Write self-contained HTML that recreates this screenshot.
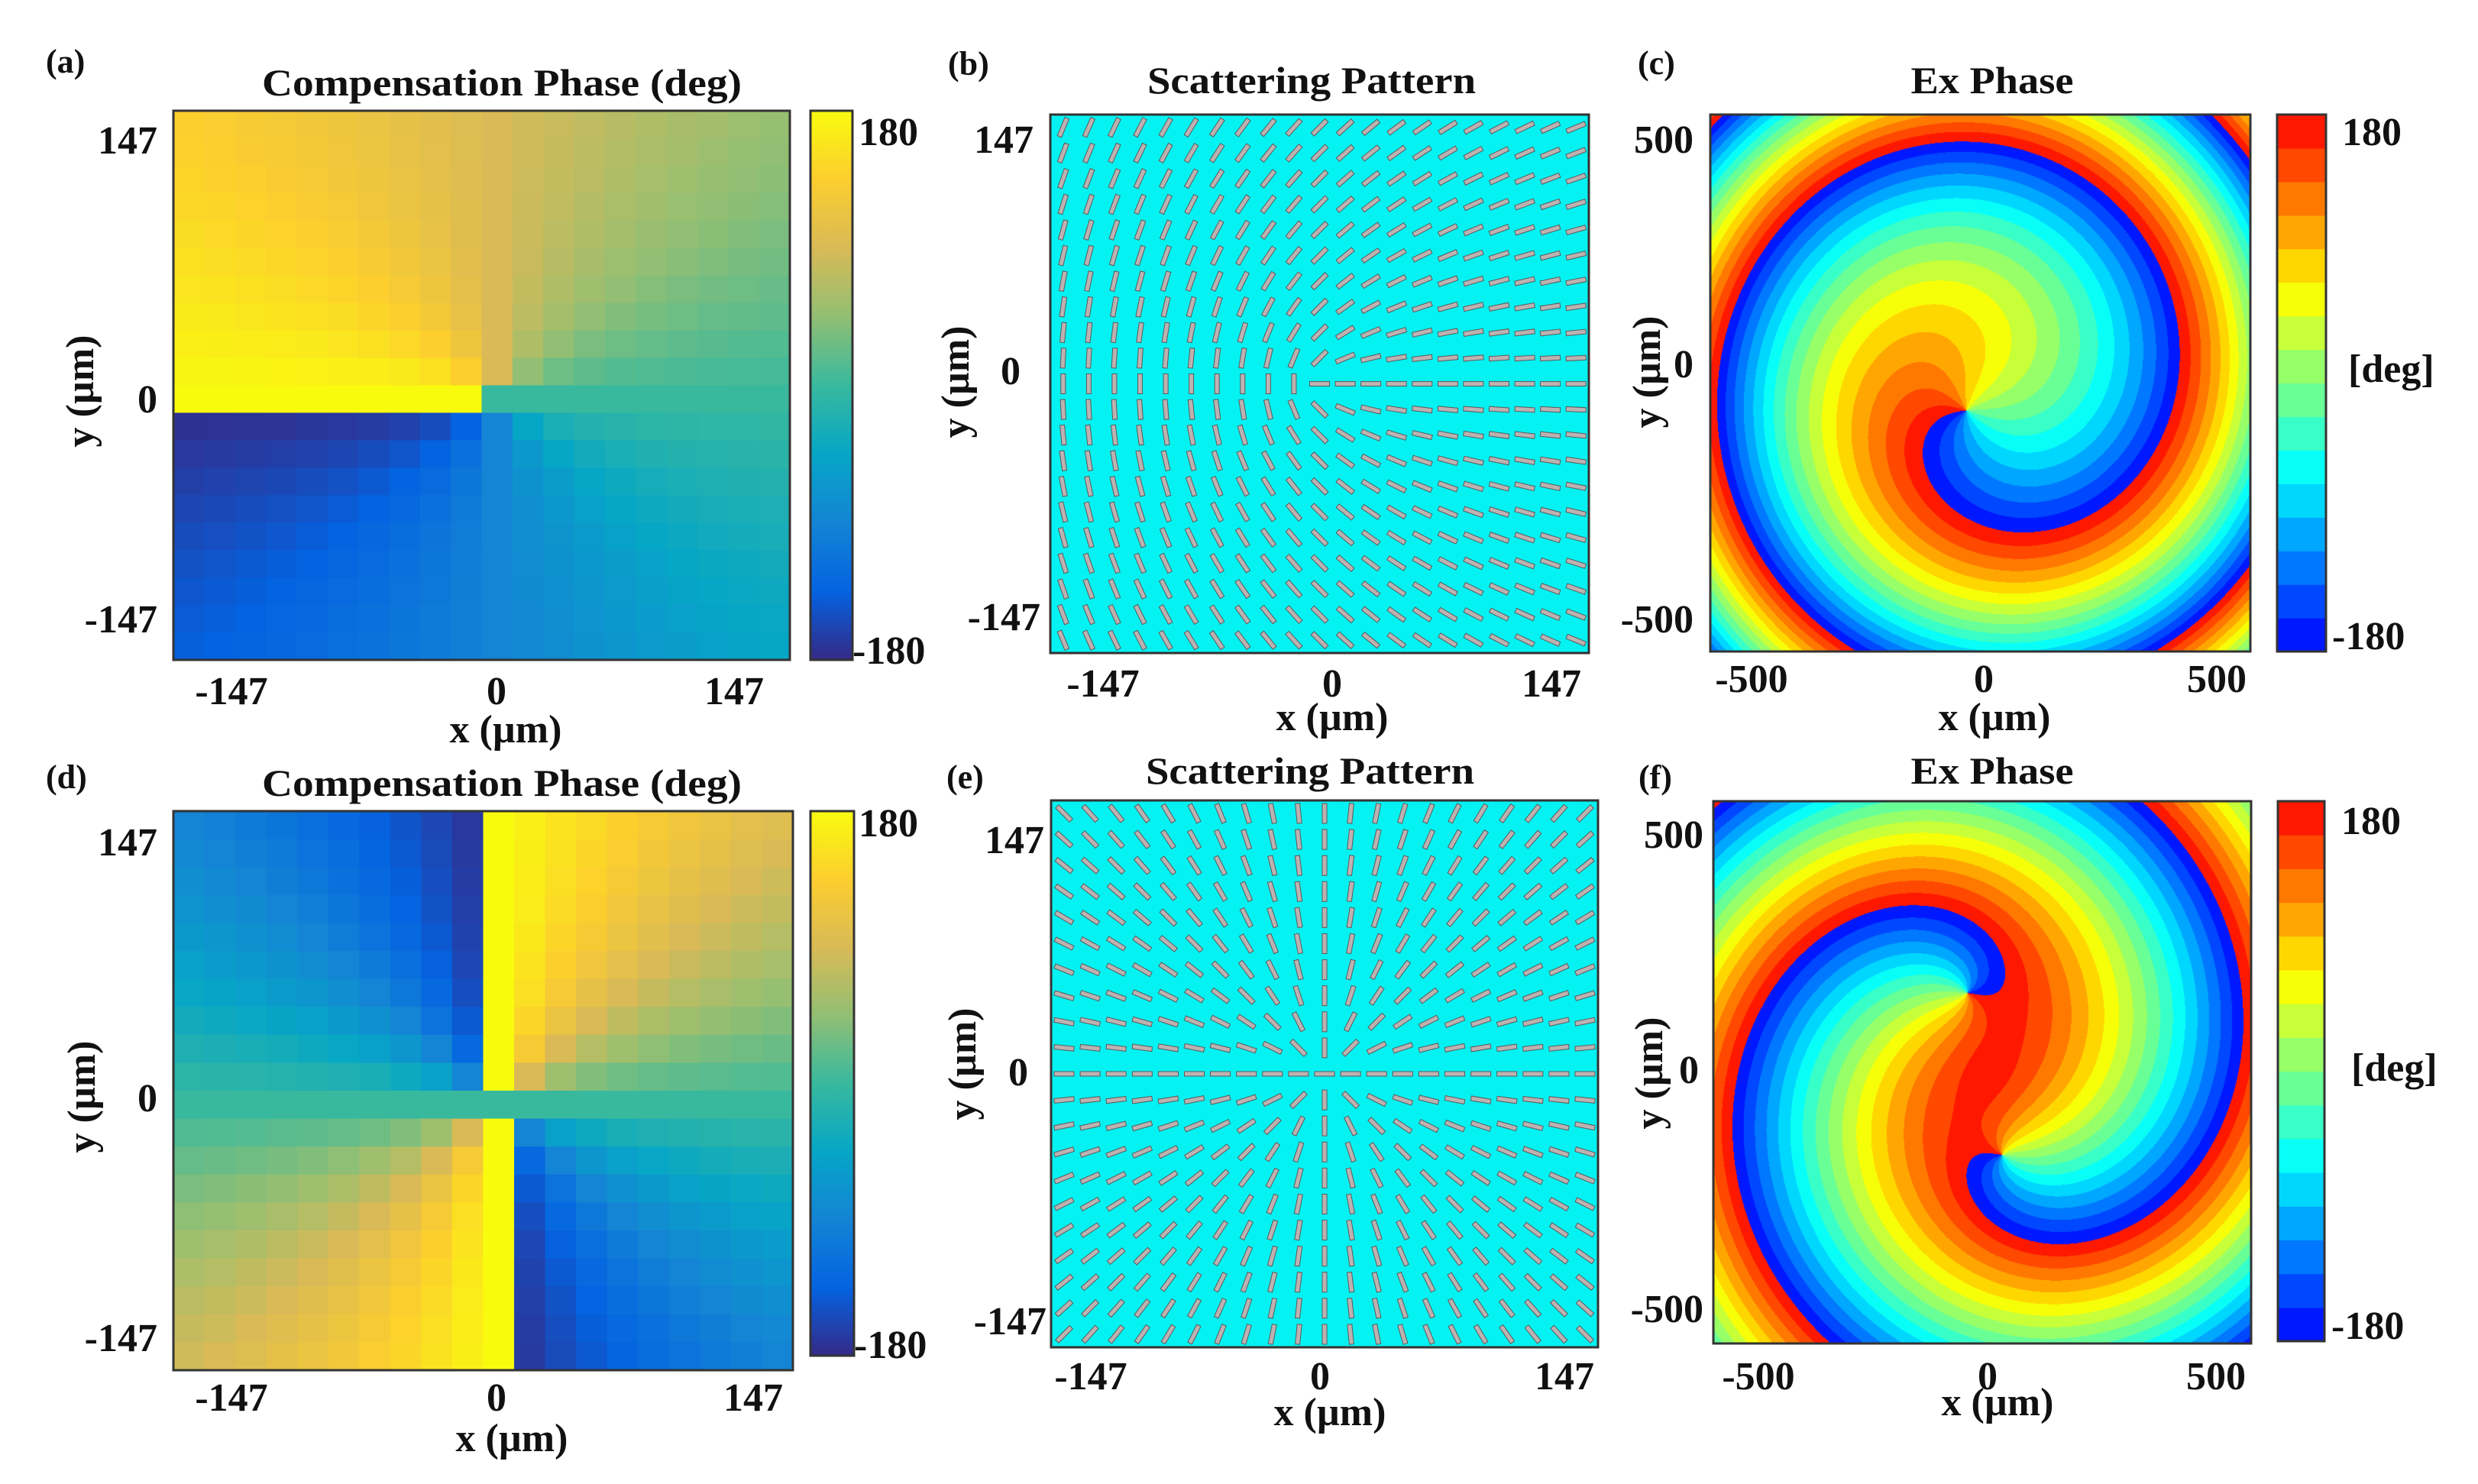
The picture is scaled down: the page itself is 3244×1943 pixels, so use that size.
<!DOCTYPE html>
<html><head><meta charset="utf-8"><style>
body{margin:0;width:3244px;height:1943px;background:#fff;position:relative;overflow:hidden}
canvas{position:absolute}
svg{position:absolute;left:0;top:0}
text{font-family:"Liberation Serif",serif;font-weight:bold;fill:#111}
</style></head><body>
<canvas id="cvC" width="707" height="703" style="left:2239px;top:150px"></canvas>
<canvas id="cvF" width="704" height="710" style="left:2243px;top:1049px"></canvas>
<svg id="sv" width="3244" height="1943">
<defs>
<linearGradient id="parula" x1="0" y1="1" x2="0" y2="0">
<stop offset="0" stop-color="rgb(53,42,135)"/><stop offset="0.125" stop-color="rgb(3,99,225)"/><stop offset="0.25" stop-color="rgb(20,132,212)"/><stop offset="0.375" stop-color="rgb(6,166,198)"/><stop offset="0.5" stop-color="rgb(56,185,158)"/><stop offset="0.625" stop-color="rgb(146,191,115)"/><stop offset="0.75" stop-color="rgb(217,186,86)"/><stop offset="0.875" stop-color="rgb(252,206,46)"/><stop offset="1" stop-color="rgb(249,251,14)"/>
</linearGradient>
</defs>
<g id="gA"></g>
<g id="gB"><rect x="1375" y="150" width="705" height="705" fill="#05f2f2"/></g>
<g id="gD"></g>
<g id="gE"><rect x="1376" y="1048" width="716" height="716" fill="#05f2f2"/></g>
<g id="cbC"></g>
<g id="cbF"></g>
<g fill="none" stroke="#333" stroke-width="3">
<rect x="227" y="145" width="807" height="719"/><rect x="1061" y="145" width="55" height="719" fill="url(#parula)"/>
<rect x="1375" y="150" width="705" height="705"/><rect x="2239" y="150" width="707" height="703"/><rect x="2981" y="150" width="64" height="703"/>
<rect x="227" y="1062" width="811" height="732"/><rect x="1061" y="1062" width="57" height="713" fill="url(#parula)"/>
<rect x="1376" y="1048" width="716" height="716"/><rect x="2243" y="1049" width="704" height="710"/><rect x="2982" y="1049" width="61" height="707"/>
</g>
<g font-size="44">
<text x="60" y="95">(a)</text>
<text x="1241" y="98">(b)</text>
<text x="2144" y="97">(c)</text>
<text x="60" y="1032">(d)</text>
<text x="1239" y="1032">(e)</text>
<text x="2145" y="1032">(f)</text>
</g>
<g font-size="50" text-anchor="middle">
<text x="657" y="125" textLength="628" lengthAdjust="spacingAndGlyphs">Compensation Phase (deg)</text>
<text x="1717" y="122" textLength="430" lengthAdjust="spacingAndGlyphs">Scattering Pattern</text>
<text x="2608" y="122" textLength="213" lengthAdjust="spacingAndGlyphs">Ex Phase</text>
<text x="657" y="1042" textLength="628" lengthAdjust="spacingAndGlyphs">Compensation Phase (deg)</text>
<text x="1715" y="1026" textLength="430" lengthAdjust="spacingAndGlyphs">Scattering Pattern</text>
<text x="2608" y="1026" textLength="213" lengthAdjust="spacingAndGlyphs">Ex Phase</text>
</g>
<g font-size="52">
<g text-anchor="end">
<text x="206" y="201">147</text><text x="206" y="540">0</text><text x="206" y="828">-147</text>
<text x="1353" y="200">147</text><text x="1336" y="503">0</text><text x="1362" y="825">-147</text>
<text x="2217" y="200">500</text><text x="2217" y="494">0</text><text x="2217" y="828">-500</text>
<text x="206" y="1120">147</text><text x="206" y="1455">0</text><text x="206" y="1769">-147</text>
<text x="1367" y="1117">147</text><text x="1346" y="1421">0</text><text x="1370" y="1747">-147</text>
<text x="2230" y="1110">500</text><text x="2224" y="1418">0</text><text x="2230" y="1731">-500</text>
</g>
<g text-anchor="middle">
<text x="303" y="922">-147</text><text x="650" y="922">0</text><text x="961" y="922">147</text>
<text x="1444" y="912">-147</text><text x="1744" y="912">0</text><text x="2031" y="912">147</text>
<text x="2293" y="906">-500</text><text x="2597" y="906">0</text><text x="2902" y="906">500</text>
<text x="303" y="1847">-147</text><text x="650" y="1847">0</text><text x="986" y="1847">147</text>
<text x="1428" y="1819">-147</text><text x="1728" y="1819">0</text><text x="2048" y="1819">147</text>
<text x="2302" y="1819">-500</text><text x="2602" y="1819">0</text><text x="2901" y="1819">500</text>
</g>
<g>
<text x="1124" y="190">180</text><text x="1116" y="869">-180</text>
<text x="3066" y="190">180</text><text x="3053" y="850">-180</text><text x="3074" y="500">[deg]</text>
<text x="1124" y="1095">180</text><text x="1118" y="1778">-180</text>
<text x="3065" y="1092">180</text><text x="3052" y="1753">-180</text><text x="3078" y="1415">[deg]</text>
</g>
</g>
<g font-size="52" text-anchor="middle">
<text x="662" y="972">x (µm)</text><text x="1744" y="956">x (µm)</text><text x="2611" y="956">x (µm)</text>
<text x="670" y="1900">x (µm)</text><text x="1741" y="1866">x (µm)</text><text x="2615" y="1853">x (µm)</text>
<text transform="translate(122,512) rotate(-90)">y (µm)</text>
<text transform="translate(1268,500) rotate(-90)">y (µm)</text>
<text transform="translate(2173,487) rotate(-90)">y (µm)</text>
<text transform="translate(124,1436) rotate(-90)">y (µm)</text>
<text transform="translate(1277,1393) rotate(-90)">y (µm)</text>
<text transform="translate(2176,1405) rotate(-90)">y (µm)</text>
</g>
</svg>
<script>
// ---- data ----
const gridX = [-10,-9,-8,-7,-6,-5,-4,-3,-2,-1,0,1,2,3,4,5,6,7,8,9];
const gridY = [10,9,8,7,6,5,4,3,2,1,0,-1,-2,-3,-4,-5,-6,-7,-8,-9];
const chargeA = [1];
const chargeD = [2];
const barIdx = [-10,-9,-8,-7,-6,-5,-4,-3,-2,-1,0,1,2,3,4,5,6,7,8,9,10];
const barOrderB = [0.5];
const barOrderE = [1];
const cVortexX = [-38], cVortexY = [-62], cCharge = [1], cOffset = [0], cFocus = [0.00108], cPower = [2];
const fVortexX = [-45, 31], fVortexY = [170, -172], fCharge = [1, 1], fOffset = [145], fFocus = [0.0256], fPower = [1.5];
const levels = [16];

const NS='http://www.w3.org/2000/svg';
function parula(t){
  const st=[[53,42,135],[3,99,225],[20,132,212],[6,166,198],[56,185,158],[146,191,115],[217,186,86],[252,206,46],[249,251,14]];
  t=Math.max(0,Math.min(1,t))*8;const i=Math.min(7,Math.floor(t)),f=t-i;
  return st[i].map((v,k)=>Math.round(v+(st[i+1][k]-v)*f));
}
function jet(t){t=0.125+0.75*t;const c=x=>Math.max(0,Math.min(1,x));return [c(1.5-Math.abs(4*t-3)),c(1.5-Math.abs(4*t-2)),c(1.5-Math.abs(4*t-1))].map(v=>Math.round(v*255));}
function wrap(p){while(p>180)p-=360;while(p<=-180)p+=360;return p;}
function ang(y,x){if(y===0&&x<0)return 180;return Math.atan2(y,x)*180/Math.PI;}

function heat(gid,x0,y0,w,h,charge,name){
  const g=document.getElementById(gid);const cw=w/gridX.length,ch=h/gridY.length;
  gridY.forEach((yv,j)=>gridX.forEach((xv,i)=>{
    let p=wrap(charge*ang(yv,xv));if(p===-180)p=180;
    const r=document.createElementNS(NS,'rect');
    r.setAttribute('x',(x0+i*cw).toFixed(2));r.setAttribute('y',(y0+j*ch).toFixed(2));
    r.setAttribute('width',(cw+0.8).toFixed(2));r.setAttribute('height',(ch+0.8).toFixed(2));
    r.setAttribute('fill','rgb('+parula((p+180)/360).join(',')+')');
    
    
    g.appendChild(r);
  }));
}
heat('gA',227,145,807,719,chargeA[0],'phase-cell-a');
heat('gD',227,1062,811,732,chargeD[0],'phase-cell-d');

function bars(gid,x0,y0,w,h,order,name){
  const g=document.getElementById(gid);const s=w/barIdx.length,sy=h/barIdx.length;
  barIdx.forEach((yv,j)=>barIdx.forEach((xv,i)=>{
    const th=ang(-yv,xv)*order;
    const cx=x0+(i+0.5)*s,cy=y0+(j+0.5)*sy;
    const r=document.createElementNS(NS,'rect');
    r.setAttribute('x',-13);r.setAttribute('y',-3);r.setAttribute('width',26);r.setAttribute('height',6);
    r.setAttribute('fill','#bdb2b2');r.setAttribute('stroke','#5a5a5a');r.setAttribute('stroke-width','1');
    r.setAttribute('transform','translate('+cx.toFixed(1)+','+cy.toFixed(1)+') rotate('+(-th).toFixed(2)+')');
    
    
    g.appendChild(r);
  }));
}
bars('gB',1375,150,705,705,barOrderB[0],'scatterer-b');
bars('gE',1376,1048,716,716,barOrderE[0],'scatterer-e');

function ex(id,x0um,y0um,sx,sy,vx,vy,q,off,a,p){
  const cv=document.getElementById(id),ctx=cv.getContext('2d'),W=cv.width,H=cv.height;
  const im=ctx.createImageData(W,H),d=im.data,L=levels[0];
  const pal=[];for(let k=0;k<L;k++)pal.push(jet((k+0.5)/L));
  for(let py=0;py<H;py++){const yu=(y0um-py)/sy;
    for(let px=0;px<W;px++){const xu=(px-x0um)/sx;
      let ph=off;for(let k=0;k<vx.length;k++)ph+=q[k]*Math.atan2(yu-vy[k],xu-vx[k])*180/Math.PI;
      ph-=a*Math.pow(Math.hypot(xu,yu),p);
      ph=wrap(ph);let l=Math.floor((ph+180)/360*L);if(l>=L)l=L-1;if(l<0)l=0;
      const c=pal[l],o=(py*W+px)*4;d[o]=c[0];d[o+1]=c[1];d[o+2]=c[2];d[o+3]=255;}}
  ctx.putImageData(im,0,0);
}
ex('cvC',2597-2239,498-150,0.609,0.628,cVortexX,cVortexY,cCharge,cOffset[0],cFocus[0],cPower[0]);
ex('cvF',2602-2243,1405-1049,0.599,0.62,fVortexX,fVortexY,fCharge,fOffset[0],fFocus[0],fPower[0]);

function jetbar(gid,x,y,w,h,name){
  const g=document.getElementById(gid),L=levels[0];
  for(let k=0;k<L;k++){
    const r=document.createElementNS(NS,'rect');
    r.setAttribute('x',x);r.setAttribute('y',(y+h-(k+1)*h/L).toFixed(2));r.setAttribute('width',w);r.setAttribute('height',(h/L+0.6).toFixed(2));
    r.setAttribute('fill','rgb('+jet((k+0.5)/L).join(',')+')');
    
    
    g.appendChild(r);
  }
}
jetbar('cbC',2981,150,64,703,'colorbar-c-band');
jetbar('cbF',2982,1049,61,707,'colorbar-f-band');
</script>
</body></html>
